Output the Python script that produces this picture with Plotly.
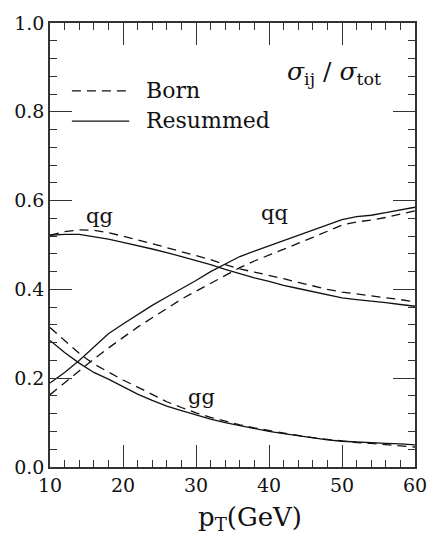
import plotly.graph_objects as go

# ---- data ----
pt = [10, 12, 14, 16, 18, 20, 22, 24, 26, 28, 30, 32, 34, 36, 38, 40,
      42, 44, 46, 48, 50, 52, 54, 56, 58, 60]

qg_resummed = [0.522, 0.524, 0.524, 0.519, 0.513, 0.506, 0.499, 0.491, 0.483,
               0.474, 0.465, 0.456, 0.445, 0.435, 0.426, 0.418, 0.409, 0.402,
               0.395, 0.388, 0.381, 0.377, 0.374, 0.370, 0.366, 0.362]
qg_born = [0.522, 0.530, 0.534, 0.533, 0.528, 0.520, 0.512, 0.503, 0.494,
           0.485, 0.477, 0.467, 0.456, 0.446, 0.439, 0.432, 0.424, 0.416,
           0.408, 0.400, 0.394, 0.390, 0.386, 0.382, 0.377, 0.372]

qq_resummed = [0.189, 0.213, 0.240, 0.270, 0.300, 0.322, 0.343, 0.364, 0.383,
               0.401, 0.420, 0.440, 0.457, 0.474, 0.486, 0.498, 0.509, 0.521,
               0.534, 0.546, 0.557, 0.564, 0.567, 0.573, 0.579, 0.585]
qq_born = [0.163, 0.190, 0.217, 0.243, 0.268, 0.292, 0.315, 0.336, 0.358,
           0.378, 0.396, 0.414, 0.432, 0.449, 0.464, 0.477, 0.491, 0.504,
           0.517, 0.531, 0.545, 0.552, 0.556, 0.562, 0.569, 0.577]

gg_resummed = [0.285, 0.258, 0.234, 0.213, 0.198, 0.181, 0.164, 0.150, 0.137,
               0.127, 0.117, 0.108, 0.100, 0.093, 0.086, 0.080, 0.075, 0.070,
               0.065, 0.061, 0.058, 0.056, 0.055, 0.053, 0.052, 0.050]
gg_born = [0.314, 0.285, 0.256, 0.232, 0.214, 0.196, 0.180, 0.163, 0.147,
           0.134, 0.122, 0.112, 0.103, 0.095, 0.088, 0.082, 0.076, 0.071,
           0.066, 0.062, 0.058, 0.055, 0.053, 0.050, 0.047, 0.045]

x_range = [10, 60]
x_major_step = 10
x_minor_step = 2
y_range = [0.0, 1.0]
y_major_step = 0.2
y_minor_step = 0.04

channel_labels = ["qg", "qq", "gg"]
label_pos_x = [16.8, 40.8, 30.7]
label_pos_y = [0.566, 0.571, 0.157]

FONT = "DejaVu Serif"
LINE_C = "#111111"
DASH = "9px,6px"
TXT = "#111111"

fig = go.Figure()

series = [
    (qg_born, DASH), (qg_resummed, "solid"),
    (qq_born, DASH), (qq_resummed, "solid"),
    (gg_born, DASH), (gg_resummed, "solid"),
]
for ys, dash in series:
    fig.add_trace(go.Scatter(x=pt, y=ys, mode="lines", showlegend=False,
                             line=dict(color=LINE_C, width=1.3, dash=dash)))

# channel labels
for t, xx, yy in zip(channel_labels, label_pos_x, label_pos_y):
    fig.add_annotation(x=xx, y=yy, text=t, showarrow=False,
                       font=dict(family=FONT, size=21, color=TXT))

# legend (drawn manually to match the reference sample length)
fig.add_shape(type="line", xref="paper", yref="paper", x0=0.06, x1=0.217,
              y0=0.847, y1=0.847, line=dict(color=LINE_C, width=1.3, dash=DASH))
fig.add_shape(type="line", xref="paper", yref="paper", x0=0.06, x1=0.217,
              y0=0.779, y1=0.779, line=dict(color=LINE_C, width=1.3))
fig.add_annotation(xref="paper", yref="paper", x=0.257, y=0.849, text="Born",
                   xanchor="left", yanchor="middle", showarrow=False,
                   font=dict(family=FONT, size=22, color=TXT))
fig.add_annotation(xref="paper", yref="paper", x=0.257, y=0.781, text="Resummed",
                   xanchor="left", yanchor="middle", showarrow=False,
                   font=dict(family=FONT, size=22, color=TXT))

# ratio label
fig.add_annotation(xref="paper", yref="paper", x=0.912, y=0.887,
                   text="<i>σ</i><sub>ij</sub> / <i>σ</i><sub>tot</sub>",
                   xanchor="right", yanchor="middle", showarrow=False,
                   font=dict(family=FONT, size=25, color=TXT))

# x-axis title as annotation for exact placement
fig.add_annotation(xref="paper", yref="paper", x=0.549, y=-0.115,
                   text="p<sub>T</sub>(GeV)", xanchor="center", yanchor="middle",
                   showarrow=False, font=dict(family=FONT, size=26, color=TXT))

fig.update_xaxes(
    range=x_range, tickmode="linear", tick0=x_range[0], dtick=x_major_step,
    showgrid=False, zeroline=False, showline=True, linecolor="#333",
    linewidth=1.5, mirror="ticks", ticks="inside", tickcolor="#333",
    tickwidth=1.2, ticklen=22,
    tickfont=dict(family=FONT, size=19, color=TXT),
    minor=dict(tickmode="linear", tick0=x_range[0], dtick=x_minor_step,
               ticks="inside", ticklen=7, tickcolor="#333", tickwidth=1.2,
               showgrid=False),
)
fig.update_yaxes(
    range=y_range, tickmode="linear", tick0=0, dtick=y_major_step,
    tickformat=".1f",
    showgrid=False, zeroline=False, showline=True, linecolor="#333",
    linewidth=1.5, mirror="ticks", ticks="inside", tickcolor="#333",
    tickwidth=1.2, ticklen=22,
    tickfont=dict(family=FONT, size=19, color=TXT),
    minor=dict(tickmode="linear", tick0=0, dtick=y_minor_step,
               ticks="inside", ticklen=7, tickcolor="#333", tickwidth=1.2,
               showgrid=False),
)

fig.update_layout(
    width=439, height=540,
    margin=dict(l=50, r=12, t=15, b=73),
    plot_bgcolor="white", paper_bgcolor="white",
)

fig.write_html("out.html")
